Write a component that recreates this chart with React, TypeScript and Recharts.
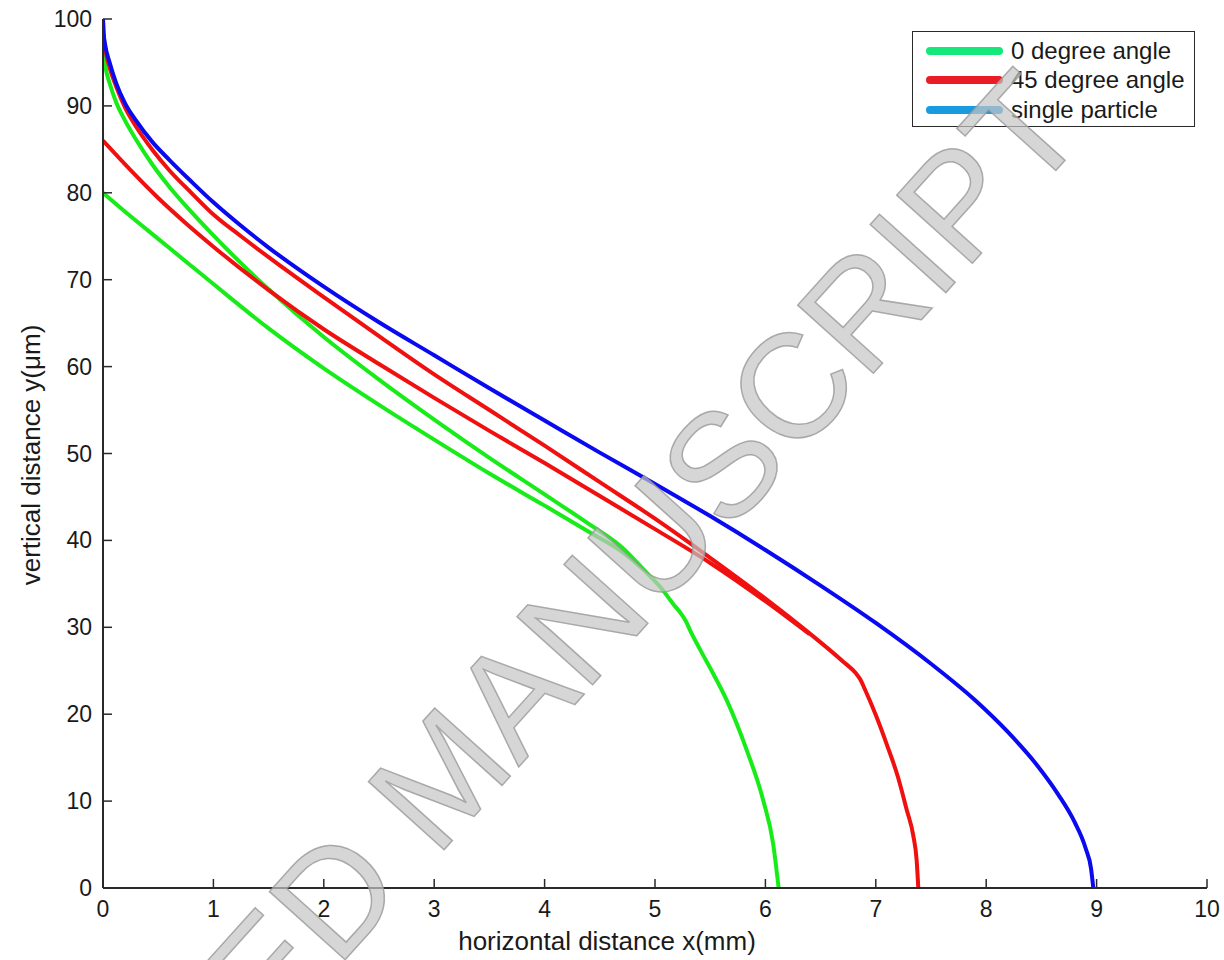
import React from "react";
import { LineChart, Line, XAxis, YAxis, Legend } from "recharts";

// tick values
const X_TICKS = [0, 1, 2, 3, 4, 5, 6, 7, 8, 9, 10];
const Y_TICKS = [0, 10, 20, 30, 40, 50, 60, 70, 80, 90, 100];

// single particle (blue)
const singleX = [0, 0.005, 0.02, 0.06, 0.12, 0.2, 0.3, 0.45, 0.6, 0.8, 1.0, 1.25, 1.5, 2.0, 2.5, 3.0, 3.5, 4.0, 4.5, 5.0, 5.5, 6.0, 6.5, 7.0, 7.5, 7.9, 8.2, 8.45, 8.65, 8.8, 8.9, 8.95, 8.97];
const singleY = [100, 98.5, 97, 95, 92.6, 90.3, 88.3, 85.8, 83.8, 81.3, 78.9, 76.2, 73.7, 69.2, 65.1, 61.3, 57.5, 53.8, 50.1, 46.5, 42.8, 38.9, 34.8, 30.5, 25.8, 21.6, 17.9, 14.3, 10.8, 7.6, 4.6, 2.2, 0];

// 45 degree angle (red): first and second particle
const deg45AX = [0, 0.005, 0.02, 0.06, 0.12, 0.2, 0.3, 0.45, 0.6, 0.8, 1.0, 1.25, 1.5, 2.0, 2.5, 3.0, 3.5, 4.0, 4.5, 5.0, 5.5, 6.0, 6.4, 6.7, 6.82, 6.86, 6.9, 7.0, 7.1, 7.2, 7.28, 7.34, 7.37, 7.385];
const deg45AY = [100, 98.3, 96.6, 94.4, 92.2, 89.8, 87.6, 84.9, 82.6, 80.0, 77.5, 75.0, 72.6, 68.0, 63.5, 59.1, 55.0, 50.9, 46.7, 42.5, 38.0, 33.3, 29.3, 26.1, 24.7, 24.0, 22.9, 19.9, 16.5, 12.8, 9.0, 6.0, 3.2, 0];
const deg45BX = [0, 0.25, 0.5, 0.75, 1.0, 1.5, 2.0, 2.5, 3.0, 3.5, 4.0, 4.5, 5.0, 5.5, 6.0, 6.4];
const deg45BY = [86, 82.6, 79.4, 76.5, 73.8, 68.8, 64.3, 60.3, 56.4, 52.6, 48.9, 45.1, 41.3, 37.4, 33.0, 29.2];

// 0 degree angle (green): first and second particle
const deg0AX = [0, 0.005, 0.02, 0.06, 0.12, 0.2, 0.3, 0.45, 0.6, 0.8, 1.0, 1.25, 1.5, 2.0, 2.5, 3.0, 3.5, 4.0, 4.4, 4.7, 4.9, 5.05, 5.17, 5.24, 5.28, 5.32, 5.41, 5.53, 5.65, 5.83, 5.98, 6.07, 6.12];
const deg0AY = [97, 96, 94.6, 92.6, 90.4, 88.3, 86.1, 83.2, 80.7, 77.8, 75.1, 71.9, 68.9, 63.4, 58.5, 53.9, 49.5, 45.3, 41.9, 39.2, 36.6, 34.6, 32.6, 31.5, 30.7, 29.6, 27.4, 24.6, 21.6, 15.9, 10.1, 5.1, 0];
const deg0BX = [0, 0.25, 0.5, 0.75, 1.0, 1.5, 2.0, 2.5, 3.0, 3.5, 4.0, 4.4, 4.7, 4.9];
const deg0BY = [80, 77.3, 74.7, 72.1, 69.5, 64.4, 59.8, 55.6, 51.6, 47.7, 44.0, 41.0, 38.7, 36.6];

const LEGEND_ITEMS = ["0 degree angle", "45 degree angle", "single particle"];
const LEGEND_COLORS = ["#14e87a", "#ea1c24", "#1a9be0"];

const GREEN = "#18ec18";
const RED = "#f01010";
const BLUE = "#0a0af0";
const AXIS = "#2a2a2a";
const FONT = '"Liberation Sans", Arial, sans-serif';

const toPoints = (xs: number[], ys: number[]) => xs.map((x, i) => ({ x, y: ys[i] }));

const BottomTick = ({ x, y, payload }: any) => (
  <g>
    <line x1={x} x2={x} y1={y} y2={y - 9} stroke={AXIS} strokeWidth={1.5} />
    <text x={x} y={y + 29} textAnchor="middle" fontSize={23} fill="#1a1a1a" fontFamily={FONT}>
      {payload.value}
    </text>
  </g>
);

const LeftTick = ({ x, y, payload }: any) => (
  <g>
    <line x1={x} x2={x + 9} y1={y} y2={y} stroke={AXIS} strokeWidth={1.5} />
    <text x={x - 11} y={y} dy={8} textAnchor="end" fontSize={23} fill="#1a1a1a" fontFamily={FONT}>
      {payload.value}
    </text>
  </g>
);

const TopTick = ({ x, y }: any) => <line x1={x} x2={x} y1={y} y2={y + 9} stroke={AXIS} strokeWidth={1.5} />;
const RightTick = ({ x, y }: any) => <line x1={x} x2={x - 9} y1={y} y2={y} stroke={AXIS} strokeWidth={1.5} />;

const renderLegend = () => (
  <div
    style={{
      border: `1.5px solid ${AXIS}`,
      background: "#fff",
      height: 96,
      boxSizing: "border-box",
      paddingTop: 4,
      fontFamily: FONT,
    }}
  >
    {LEGEND_ITEMS.map((name, i) => (
      <div key={name} style={{ display: "flex", alignItems: "center", height: 29.5 }}>
        <span
          style={{
            display: "inline-block",
            width: 77,
            height: 8,
            borderRadius: 4,
            marginLeft: 13,
            marginRight: 8,
            background: LEGEND_COLORS[i],
          }}
        />
        <span style={{ fontSize: 24, color: "#1a1a1a" }}>{name}</span>
      </div>
    ))}
  </div>
);

export default function App() {
  const lines = [
    { key: "g1", data: toPoints(deg0BX, deg0BY), color: GREEN },
    { key: "g0", data: toPoints(deg0AX, deg0AY), color: GREEN },
    { key: "r1", data: toPoints(deg45BX, deg45BY), color: RED },
    { key: "r0", data: toPoints(deg45AX, deg45AY), color: RED },
    { key: "b0", data: toPoints(singleX, singleY), color: BLUE },
  ];

  return (
    <div style={{ position: "absolute", left: 0, top: 0, width: 1224, height: 960, background: "#fff" }}>
      <LineChart width={1224} height={960} margin={{ top: 19, right: 17, bottom: 0, left: 0 }}>
        <XAxis
          dataKey="x"
          type="number"
          domain={[0, 10]}
          ticks={X_TICKS}
          interval={0}
          allowDataOverflow
          height={72}
          tickSize={0}
          tickMargin={0}
          tick={<BottomTick />}
          axisLine={{ stroke: AXIS, strokeWidth: 2 }}
          tickLine={false}
        />
        <XAxis
          xAxisId="top"
          orientation="top"
          dataKey="x"
          type="number"
          domain={[0, 10]}
          ticks={X_TICKS}
          interval={0}
          allowDataOverflow
          height={0}
          tickSize={0}
          tickMargin={0}
          tick={<TopTick />}
          axisLine={{ stroke: AXIS, strokeWidth: 2 }}
          tickLine={false}
        />
        <YAxis
          type="number"
          domain={[0, 100]}
          ticks={Y_TICKS}
          interval={0}
          allowDataOverflow
          width={103}
          tickSize={0}
          tickMargin={0}
          tick={<LeftTick />}
          axisLine={{ stroke: AXIS, strokeWidth: 2 }}
          tickLine={false}
        />
        <YAxis
          yAxisId="right"
          orientation="right"
          type="number"
          domain={[0, 100]}
          ticks={Y_TICKS}
          interval={0}
          allowDataOverflow
          width={0}
          tickSize={0}
          tickMargin={0}
          tick={<RightTick />}
          axisLine={{ stroke: AXIS, strokeWidth: 2 }}
          tickLine={false}
        />
        {lines.map((l) => (
          <Line
            key={l.key}
            data={l.data}
            dataKey="y"
            type="monotone"
            stroke={l.color}
            strokeWidth={4}
            dot={false}
            activeDot={false}
            legendType="none"
            isAnimationActive={false}
          />
        ))}
        <Legend
          layout="horizontal"
          verticalAlign="middle"
          align="center"
          width={283}
          content={renderLegend}
          wrapperStyle={{ left: 912, top: 31, width: 283 }}
        />
      </LineChart>

      {/* axis titles and watermark overlay */}
      <svg
        width={1224}
        height={960}
        style={{ position: "absolute", left: 0, top: 0, pointerEvents: "none" }}
      >
        <text x={607} y={950} textAnchor="middle" fontSize={26} fill="#1a1a1a" fontFamily={FONT}>
          horizontal distance x(mm)
        </text>
        <text
          x={40}
          y={455}
          textAnchor="middle"
          fontSize={26}
          fill="#1a1a1a"
          fontFamily={FONT}
          transform="rotate(-90, 40, 455)"
        >
          vertical distance y(μm)
        </text>
        <text
          x={480}
          y={810}
          textAnchor="middle"
          fontSize={148}
          fill="#c4c4c4"
          fillOpacity={0.7}
          stroke="#999"
          strokeWidth={1.5}
          strokeOpacity={0.8}
          fontFamily={FONT}
          transform="rotate(-48, 480, 810)"
        >
          ACCEPTED MANUSCRIPT
        </text>
      </svg>
    </div>
  );
}
